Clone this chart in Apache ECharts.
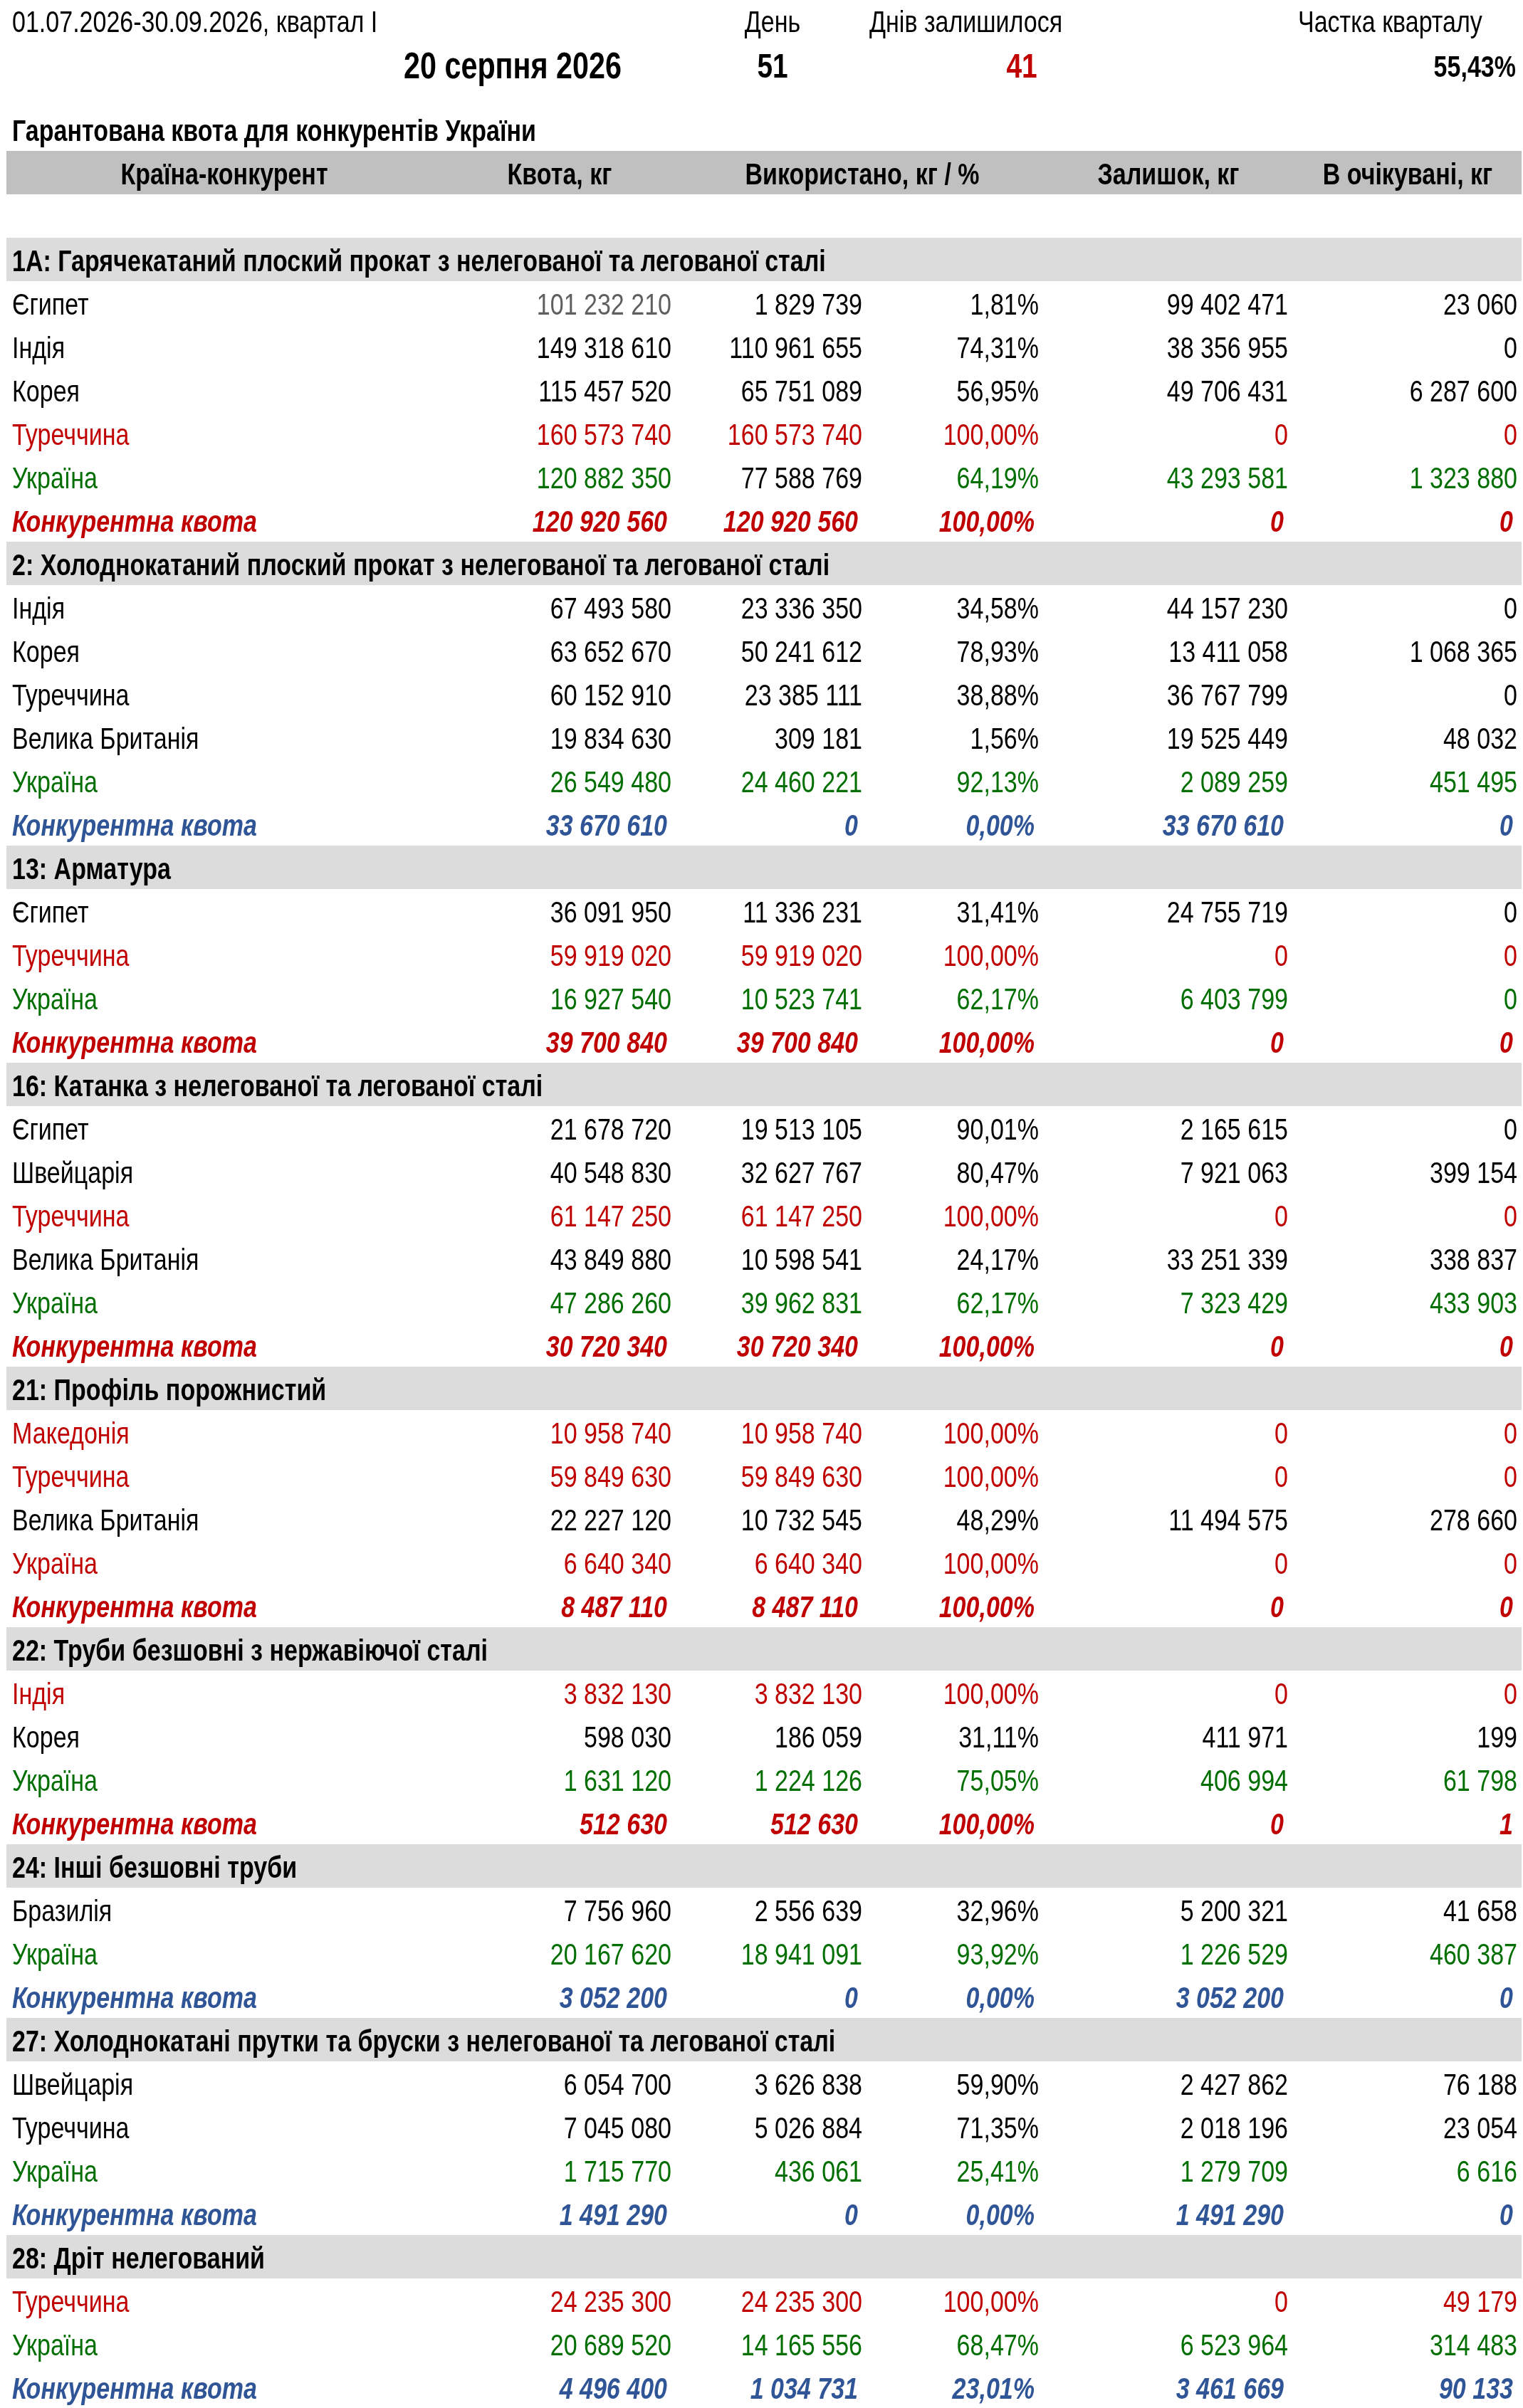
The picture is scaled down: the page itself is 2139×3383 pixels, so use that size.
<!DOCTYPE html>
<html>
<head>
<meta charset="utf-8">
<script src="https://cdn.jsdelivr.net/npm/echarts@6/dist/echarts.min.js"></script>
<style>
  html, body { margin: 0; padding: 0; background: #fff; }
  #quota { width: 2139px; height: 3383px; }
</style>
</head>
<body>
<div id="quota"></div>
<script>
const periodLabel = '01.07.2026-30.09.2026, квартал I';
const reportDate = '20 серпня 2026';
const dayLabels = ['День', 'Днів залишилося', 'Частка кварталу'];
const dayValues = [51, 41];
const quarterShare = 55.43;
const tableTitle = 'Гарантована квота для конкурентів України';
const columnNames = ['Країна-конкурент', 'Квота, кг', 'Використано, кг / %', 'Залишок, кг', 'В очікувані, кг'];

const sectionTitles = [
  '1A: Гарячекатаний плоский прокат з нелегованої та легованої сталі',
  '2: Холоднокатаний плоский прокат з нелегованої та легованої сталі',
  '13: Арматура',
  '16: Катанка з нелегованої та легованої сталі',
  '21: Профіль порожнистий',
  '22: Труби безшовні з нержавіючої сталі',
  '24: Інші безшовні труби',
  '27: Холоднокатані прутки та бруски з нелегованої та легованої сталі',
  '28: Дріт нелегований'
];

// country, quota, used, used %, remaining, pending
const s1A = [
  ['Єгипет', 101232210, 1829739, 1.81, 99402471, 23060],
  ['Індія', 149318610, 110961655, 74.31, 38356955, 0],
  ['Корея', 115457520, 65751089, 56.95, 49706431, 6287600],
  ['Туреччина', 160573740, 160573740, 100.00, 0, 0],
  ['Україна', 120882350, 77588769, 64.19, 43293581, 1323880],
  ['Конкурентна квота', 120920560, 120920560, 100.00, 0, 0]
];
const s2 = [
  ['Індія', 67493580, 23336350, 34.58, 44157230, 0],
  ['Корея', 63652670, 50241612, 78.93, 13411058, 1068365],
  ['Туреччина', 60152910, 23385111, 38.88, 36767799, 0],
  ['Велика Британія', 19834630, 309181, 1.56, 19525449, 48032],
  ['Україна', 26549480, 24460221, 92.13, 2089259, 451495],
  ['Конкурентна квота', 33670610, 0, 0.00, 33670610, 0]
];
const s13 = [
  ['Єгипет', 36091950, 11336231, 31.41, 24755719, 0],
  ['Туреччина', 59919020, 59919020, 100.00, 0, 0],
  ['Україна', 16927540, 10523741, 62.17, 6403799, 0],
  ['Конкурентна квота', 39700840, 39700840, 100.00, 0, 0]
];
const s16 = [
  ['Єгипет', 21678720, 19513105, 90.01, 2165615, 0],
  ['Швейцарія', 40548830, 32627767, 80.47, 7921063, 399154],
  ['Туреччина', 61147250, 61147250, 100.00, 0, 0],
  ['Велика Британія', 43849880, 10598541, 24.17, 33251339, 338837],
  ['Україна', 47286260, 39962831, 62.17, 7323429, 433903],
  ['Конкурентна квота', 30720340, 30720340, 100.00, 0, 0]
];
const s21 = [
  ['Македонія', 10958740, 10958740, 100.00, 0, 0],
  ['Туреччина', 59849630, 59849630, 100.00, 0, 0],
  ['Велика Британія', 22227120, 10732545, 48.29, 11494575, 278660],
  ['Україна', 6640340, 6640340, 100.00, 0, 0],
  ['Конкурентна квота', 8487110, 8487110, 100.00, 0, 0]
];
const s22 = [
  ['Індія', 3832130, 3832130, 100.00, 0, 0],
  ['Корея', 598030, 186059, 31.11, 411971, 199],
  ['Україна', 1631120, 1224126, 75.05, 406994, 61798],
  ['Конкурентна квота', 512630, 512630, 100.00, 0, 1]
];
const s24 = [
  ['Бразилія', 7756960, 2556639, 32.96, 5200321, 41658],
  ['Україна', 20167620, 18941091, 93.92, 1226529, 460387],
  ['Конкурентна квота', 3052200, 0, 0.00, 3052200, 0]
];
const s27 = [
  ['Швейцарія', 6054700, 3626838, 59.90, 2427862, 76188],
  ['Туреччина', 7045080, 5026884, 71.35, 2018196, 23054],
  ['Україна', 1715770, 436061, 25.41, 1279709, 6616],
  ['Конкурентна квота', 1491290, 0, 0.00, 1491290, 0]
];
const s28 = [
  ['Туреччина', 24235300, 24235300, 100.00, 0, 49179],
  ['Україна', 20689520, 14165556, 68.47, 6523964, 314483],
  ['Конкурентна квота', 4496400, 1034731, 23.01, 3461669, 90133]
];
const sections = [s1A, s2, s13, s16, s21, s22, s24, s27, s28];

// ---- layout & style ----
const W = 2139, H = 3383;
const ROW_H = 61, FIRST_ROW_Y = 364.5;        // centre of the first section row, px
const BAND_L = 9, BAND_R = 2137;
const NAME_X = 17;
const COL_RIGHT = [943, 1211, 1459, 1809, 2131]; // right edges of number columns
const HEAD_CENTER = [315, 786, 1211, 1641, 1977];
const TEXT_DY = 5;                               // sheet text sits a little low in its cell
const NARROW = 0.81;                             // no narrow face installed: squeeze Liberation Sans
const FONT = '"Liberation Sans", Arial, sans-serif';
const SIZE = '42px ';
const C = {
  black: '#000000', grey: '#5f5f5f', red: '#c00000', green: '#006e00', blue: '#2f5597',
  headBand: '#c0c0c0', secBand: '#dcdcdc'
};
// cells that break the colour rule in the source sheet: [section, row, column, colour]
const colourOverrides = [[0, 0, 1, 'grey'], [0, 4, 2, 'black']];

const pxRow = y => (y - FIRST_ROW_Y) / ROW_H;   // pixel y -> row units

function fmtInt(v) {
  return String(v).replace(/\B(?=(\d{3})+(?!\d))/g, ' ');
}
function fmtPct(v) {
  return v.toFixed(2).replace('.', ',') + '%';
}

// ---- build bands and text cells ----
const bands = [];
const cells = [];
bands.push({ row: -2, fill: C.headBand });

cells.push({ x: NAME_X, row: pxRow(28), text: periodLabel, align: 'left', font: SIZE + FONT, fill: C.black });
cells.push({ x: 1085, row: pxRow(28), text: dayLabels[0], align: 'center', font: SIZE + FONT, fill: C.black });
cells.push({ x: 1221, row: pxRow(28), text: dayLabels[1], align: 'left', font: SIZE + FONT, fill: C.black });
cells.push({ x: 1823, row: pxRow(28), text: dayLabels[2], align: 'left', font: SIZE + FONT, fill: C.black });
cells.push({ x: 720, row: pxRow(91), text: reportDate, align: 'center', font: 'bold 51px ' + FONT, fill: C.black });
cells.push({ x: 1085, row: pxRow(91), text: String(dayValues[0]), align: 'center', font: 'bold 48px ' + FONT, fill: C.black });
cells.push({ x: 1435, row: pxRow(91), text: String(dayValues[1]), align: 'center', font: 'bold 48px ' + FONT, fill: C.red });
cells.push({ x: 2129, row: pxRow(91), text: fmtPct(quarterShare), align: 'right', font: 'bold 42px ' + FONT, fill: C.black });
cells.push({ x: NAME_X, row: -3, text: tableTitle, align: 'left', font: 'bold ' + SIZE + FONT, fill: C.black });
columnNames.forEach((name, i) => {
  cells.push({ x: HEAD_CENTER[i], row: -2, text: name, align: 'center', font: 'bold ' + SIZE + FONT, fill: C.black });
});

let row = 0;
sections.forEach((sec, si) => {
  bands.push({ row: row, fill: C.secBand });
  cells.push({ x: NAME_X, row: row, text: sectionTitles[si], align: 'left', font: 'bold ' + SIZE + FONT, fill: C.black });
  row++;
  sec.forEach((r, ri) => {
    const isTotal = ri === sec.length - 1;
    const full = r[3] >= 100;
    let tone = 'black';
    if (isTotal) tone = full ? 'red' : 'blue';
    else if (full) tone = 'red';
    else if (r[0] === 'Україна') tone = 'green';
    const font = (isTotal ? 'italic bold ' : '') + SIZE + FONT;
    const shift = isTotal ? -6 : 0;
    const texts = [r[0], fmtInt(r[1]), fmtInt(r[2]), fmtPct(r[3]), fmtInt(r[4]), fmtInt(r[5])];
    texts.forEach((t, ci) => {
      let fill = C[tone];
      colourOverrides.forEach(o => { if (o[0] === si && o[1] === ri && o[2] === ci) fill = C[o[3]]; });
      cells.push({
        x: ci === 0 ? NAME_X : COL_RIGHT[ci - 1] + shift,
        row: row, text: t, align: ci === 0 ? 'left' : 'right', font: font, fill: fill
      });
    });
    row++;
  });
});

// ---- chart ----
const chart = echarts.init(document.getElementById('quota'), null, { renderer: 'canvas' });
chart.setOption({
  animation: false,
  backgroundColor: '#ffffff',
  grid: { left: 0, right: 0, top: 0, bottom: 0 },
  xAxis: { type: 'value', min: 0, max: W, show: false },
  yAxis: { type: 'value', inverse: true, min: pxRow(0), max: pxRow(H), show: false },
  series: [
    {
      type: 'custom',
      silent: true,
      data: bands.map(b => [BAND_L, b.row]),
      renderItem: function (params, api) {
        const b = bands[params.dataIndex];
        const p0 = api.coord([BAND_L, b.row - 0.5]);
        const p1 = api.coord([BAND_R, b.row + 0.5]);
        return {
          type: 'rect',
          shape: { x: p0[0], y: Math.min(p0[1], p1[1]), width: p1[0] - p0[0], height: Math.abs(p1[1] - p0[1]) },
          style: { fill: b.fill }
        };
      }
    },
    {
      type: 'custom',
      silent: true,
      data: cells.map(c => [c.x, c.row]),
      renderItem: function (params, api) {
        const c = cells[params.dataIndex];
        const p = api.coord([c.x, c.row]);
        return {
          type: 'text',
          x: p[0],
          y: p[1] + TEXT_DY,
          scaleX: NARROW,
          style: {
            text: c.text,
            font: c.font,
            fill: c.fill,
            align: c.align,
            verticalAlign: 'middle'
          }
        };
      }
    }
  ]
});
</script>
</body>
</html>
